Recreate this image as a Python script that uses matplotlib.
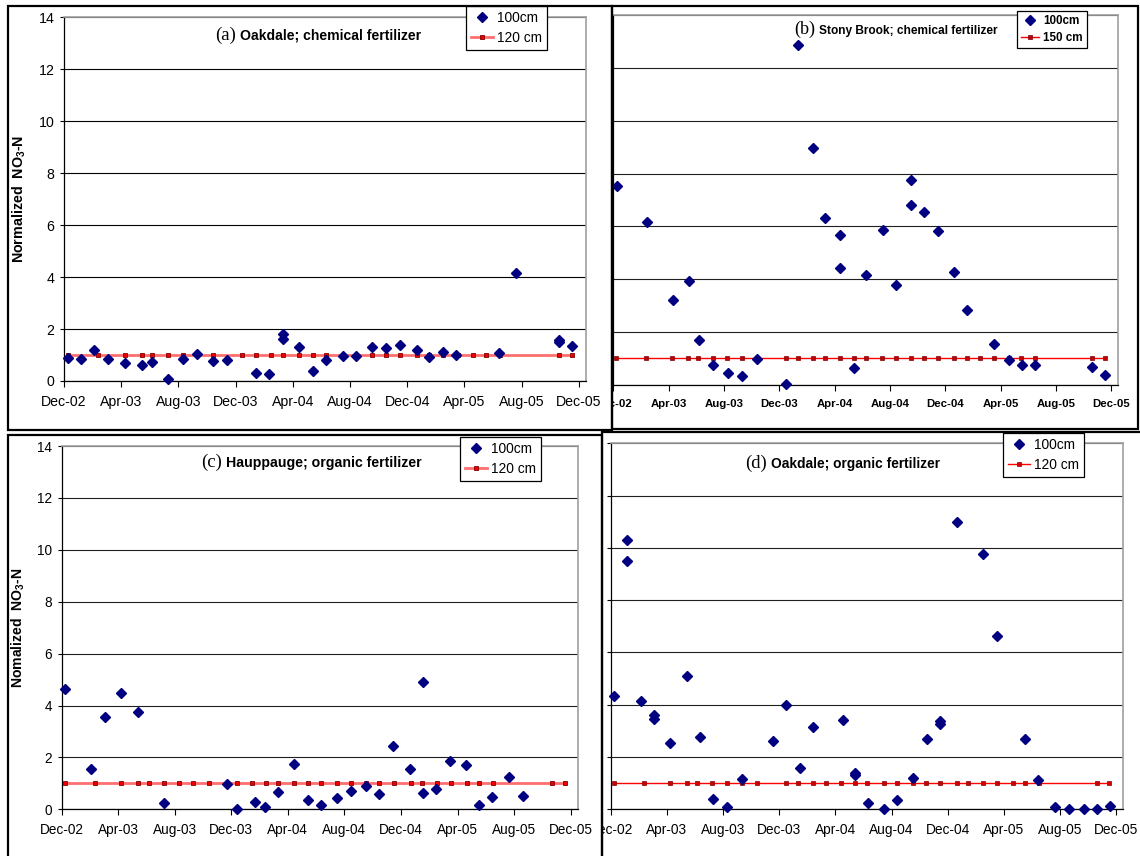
import matplotlib
matplotlib.use("Agg")
import matplotlib.pyplot as plt
from matplotlib.patches import Rectangle
from matplotlib.transforms import Bbox, TransformedBbox

plt.rcParams['font.family'] = ['Liberation Sans', 'DejaVu Sans']
plt.rcParams['mathtext.fontset'] = 'custom'
plt.rcParams['mathtext.rm'] = 'Liberation Sans'
plt.rcParams['mathtext.bf'] = 'Liberation Sans:bold'

# ---------------- data (x = months since Dec-02) ----------------
tick_months = [0, 4, 8, 12, 16, 20, 24, 28, 32, 36]
tick_labels = ['Dec-02', 'Apr-03', 'Aug-03', 'Dec-03', 'Apr-04', 'Aug-04',
               'Dec-04', 'Apr-05', 'Aug-05', 'Dec-05']
y_ticks = [0, 2, 4, 6, 8, 10, 12, 14]

# (a) Oakdale; chemical fertilizer
a_x100 = [0.28, 1.17, 2.12, 3.05, 4.24, 5.48, 6.15, 7.30, 8.34, 9.32, 10.44, 11.42,
          13.43, 14.34, 15.29, 15.29, 16.46, 17.39, 18.32, 19.49, 20.44, 21.54,
          22.49, 23.47, 24.66, 25.52, 26.50, 27.44, 30.42, 31.59, 34.64, 34.64, 35.55]
a_y100 = [0.90, 0.86, 1.21, 0.86, 0.69, 0.63, 0.73, 0.08, 0.83, 1.04, 0.76, 0.80,
          0.31, 0.28, 1.80, 1.60, 1.31, 0.40, 0.80, 0.96, 0.96, 1.31,
          1.28, 1.37, 1.21, 0.94, 1.10, 1.01, 1.08, 4.17, 1.59, 1.49, 1.35]
a_x120 = [0.28, 2.35, 4.24, 5.48, 6.15, 7.30, 8.34, 9.32, 10.44, 12.47, 13.43, 14.48,
          15.29, 16.46, 17.39, 18.32, 19.49, 20.44, 21.54, 22.49, 23.47, 24.66, 25.52,
          26.50, 27.55, 28.62, 29.49, 30.49, 34.64, 35.51]
a_y120 = [1.0] * len(a_x120)

# (b) Stony Brook; chemical fertilizer
b_x100 = [0.27, 2.41, 4.29, 5.45, 6.17, 7.23, 8.27, 9.33, 10.36, 12.48, 13.37, 14.41,
          15.30, 16.41, 16.41, 17.40, 18.29, 19.47, 20.41, 21.52, 21.52, 22.48, 23.45,
          24.60, 25.54, 27.52, 28.60, 29.52, 30.48, 34.60, 35.52]
b_y100 = [7.53, 6.17, 3.20, 3.95, 1.70, 0.76, 0.47, 0.33, 0.98, 0.05, 12.88, 8.98,
          6.32, 5.69, 4.44, 0.63, 4.15, 5.86, 3.77, 7.74, 6.81, 6.56, 5.84,
          4.29, 2.82, 1.54, 0.93, 0.77, 0.77, 0.67, 0.39]
b_x150 = [0.20, 2.37, 4.24, 5.41, 6.13, 7.20, 8.25, 9.28, 10.40, 12.47, 13.37, 14.41,
          15.31, 16.41, 17.38, 18.28, 19.45, 20.40, 21.50, 22.47, 23.44, 24.59, 25.54,
          26.48, 27.53, 28.60, 29.50, 30.50, 34.61, 35.54]
b_y150 = [1.02] * len(b_x150)

# (c) Hauppauge; organic fertilizer
c_x100 = [0.24, 2.08, 3.03, 4.18, 5.41, 7.26, 11.70, 12.43, 13.66, 14.37, 15.32, 16.45,
          17.45, 18.32, 19.50, 20.45, 21.51, 22.46, 23.43, 24.66, 25.56, 25.56, 26.50,
          27.47, 28.63, 29.50, 30.47, 31.63, 32.60]
c_y100 = [4.65, 1.54, 3.54, 4.47, 3.74, 0.24, 0.99, 0.03, 0.28, 0.10, 0.68, 1.73,
          0.36, 0.18, 0.42, 0.72, 0.90, 0.58, 2.44, 1.54, 4.92, 0.63, 0.80,
          1.85, 1.69, 0.17, 0.47, 1.25, 0.51]
c_x120 = [0.24, 2.36, 4.18, 5.41, 6.17, 7.26, 8.30, 9.31, 10.40, 12.43, 13.43, 14.42,
          15.32, 16.41, 17.45, 18.32, 19.50, 20.45, 21.51, 22.46, 23.50, 24.68, 25.48,
          26.52, 27.54, 28.65, 29.50, 30.50, 34.70, 35.60]
c_y120 = [1.0] * len(c_x120)

# (d) Oakdale; organic fertilizer
d_x100 = [0.26, 1.19, 1.19, 2.14, 3.06, 3.06, 4.23, 5.46, 6.34, 7.27, 8.31, 9.36,
          11.59, 12.47, 13.47, 14.39, 16.51, 17.43, 17.43, 18.29, 19.48, 20.40, 21.52,
          22.52, 23.47, 23.47, 24.68, 26.53, 27.48, 29.53, 30.45, 31.61, 32.64, 33.73,
          34.66, 35.58]
d_y100 = [4.35, 10.29, 9.50, 4.15, 3.60, 3.44, 2.55, 5.08, 2.76, 0.40, 0.09, 1.16,
          2.63, 3.98, 1.58, 3.15, 3.41, 1.39, 1.31, 0.26, 0.0, 0.36, 1.20,
          2.68, 3.38, 3.28, 11.0, 9.78, 6.63, 2.68, 1.11, 0.09, 0.03, 0.0,
          0.0, 0.13]
d_x120 = [0.24, 2.35, 4.20, 5.44, 6.18, 7.24, 8.29, 9.36, 10.40, 12.45, 13.37, 14.42,
          15.30, 16.41, 17.41, 18.27, 19.45, 20.38, 21.49, 22.47, 23.47, 24.66, 25.46,
          26.51, 27.51, 28.65, 29.50, 30.50, 34.66, 35.51]
d_y120 = [1.0] * len(d_x120)

# ---------------- layout helpers ----------------
W, H = 1140, 856
fig = plt.figure(figsize=(W / 100, H / 100), dpi=100)
fig.patch.set_facecolor('white')


def fx(px):
    return px / W


def fy(py):
    return 1 - py / H


def add_axes(x0, y0, x1, y1):
    return fig.add_axes([fx(x0), fy(y1), fx(x1) - fx(x0), (y1 - y0) / H])


def frame(x0, y0, x1, y1):
    fig.patches.append(Rectangle((fx(x0), fy(y1)), fx(x1) - fx(x0), (y1 - y0) / H,
                                 transform=fig.transFigure, fill=False,
                                 edgecolor='black', linewidth=1.6, zorder=10))


NAVY = '#000080'
DIAMOND = 4.6


def style_axes(ax, tick_fs, bold_ticks=False, ylabels=True, ytick_len=3,
               grid_color='black'):
    ax.set_xlim(0, 36.5)
    ax.set_ylim(0, 14)
    ax.set_xticks(tick_months)
    ax.set_xticklabels(tick_labels, fontsize=tick_fs,
                       fontweight='bold' if bold_ticks else 'normal')
    ax.set_yticks(y_ticks)
    if ylabels:
        ax.set_yticklabels([str(v) for v in y_ticks], fontsize=tick_fs)
    else:
        ax.set_yticklabels([])
    ax.tick_params(axis='x', direction='out', length=4, width=0.8, pad=6, colors='black')
    ax.tick_params(axis='y', direction='out', length=ytick_len, width=0.8, pad=4)
    ax.grid(axis='y', color=grid_color, linewidth=0.8)
    ax.set_axisbelow(True)
    for s in ['left', 'bottom']:
        ax.spines[s].set_color('black')
        ax.spines[s].set_linewidth(0.9)
    for s in ['top', 'right']:
        ax.spines[s].set_color('#a0a0a0')
        ax.spines[s].set_linewidth(1.2)


def clip_xlabels(ax, x0, y0, x1, y1):
    bb = TransformedBbox(Bbox.from_extents(fx(x0), fy(y1), fx(x1), fy(y0)), fig.transFigure)
    for t in ax.xaxis.get_major_ticks():
        t.label1.set_clip_box(bb)
        t.label1.set_clip_on(True)


def title(xsplit, baseline, tag, text, tag_fs, fs):
    fig.text(fx(xsplit - 4), fy(baseline), tag, family='Liberation Serif',
             fontsize=tag_fs, ha='right', va='baseline')
    fig.text(fx(xsplit), fy(baseline), text, fontsize=fs, fontweight='bold',
             ha='left', va='baseline')


def ylabel(ax, text, x_right, ax_x0, ax_x1, fs):
    ax.set_ylabel(text, fontsize=fs, fontweight='bold')
    ax.yaxis.set_label_coords((x_right - ax_x0) / (ax_x1 - ax_x0), 0.5)


def legend(ax, h1, h2, l2, x0, y0, fs, bold=False):
    leg = ax.legend([h1, h2], ['100cm', l2], loc='upper left',
                    bbox_to_anchor=(fx(x0), fy(y0)), bbox_transform=fig.transFigure,
                    borderaxespad=0, frameon=True, fancybox=False, framealpha=1,
                    edgecolor='black', handlelength=1.6, handletextpad=0.3,
                    borderpad=0.35, labelspacing=0.45,
                    prop={'size': fs, 'weight': 'bold' if bold else 'normal'})
    leg.get_frame().set_linewidth(0.9)
    leg.set_zorder(20)
    return leg


# ---------------- panel frames ----------------
frame(8, 6, 612, 430)
frame(612, 6, 1138, 429)
frame(8, 435, 602, 870)
frame(602, 432, 1150, 870)

# ---------------- (a) ----------------
ax = add_axes(64, 17.3, 586, 381)
style_axes(ax, 10.2)
ha, = ax.plot(a_x100, a_y100, linestyle='none', marker='D', markersize=DIAMOND,
              color=NAVY, zorder=4)
hb, = ax.plot(a_x120, a_y120, color='#ff6f6f', linewidth=2.0, marker='s',
              markersize=3.5, markerfacecolor='#ee0000', markeredgecolor='#800000',
              markeredgewidth=0.6, zorder=3)
for a in (ha, hb):
    a.set_clip_on(False)
ylabel(ax, 'Normalized  NO$_{\\mathbf{3}}$-N', 28.5, 64, 586, 10.3)
legend(ax, ha, hb, '120 cm', 466, 6, 9.9)
title(240, 40, '(a)', 'Oakdale; chemical fertilizer', 13.5, 10.1)

# ---------------- (b) ----------------
ax = add_axes(613.3, 15, 1118.3, 385)
style_axes(ax, 8.2, bold_ticks=True, ylabels=False, ytick_len=0, grid_color='#202020')
ha, = ax.plot(b_x100, b_y100, linestyle='none', marker='D', markersize=DIAMOND,
              color=NAVY, zorder=4)
hb, = ax.plot(b_x150, b_y150, color='#ff0000', linewidth=1.0, marker='s',
              markersize=2.8, markerfacecolor='#c00000', markeredgecolor='#800000',
              markeredgewidth=0.5, zorder=3)
ha.set_clip_on(False)
legend(ax, ha, hb, '150 cm', 1016.7, 10.7, 8.4, bold=True)
title(819, 34, '(b)', 'Stony Brook; chemical fertilizer', 13, 8.6)
clip_xlabels(ax, 613, 0, 1140, 429)

# ---------------- (c) ----------------
ax = add_axes(61.7, 446, 577.7, 809.3)
style_axes(ax, 9.8, grid_color='#202020')
ha, = ax.plot(c_x100, c_y100, linestyle='none', marker='D', markersize=DIAMOND,
              color=NAVY, zorder=4)
hb, = ax.plot(c_x120, c_y120, color='#ff6f6f', linewidth=2.0, marker='s',
              markersize=3.5, markerfacecolor='#ee0000', markeredgecolor='#800000',
              markeredgewidth=0.6, zorder=3)
for a in (ha, hb):
    a.set_clip_on(False)
ylabel(ax, 'Nomalized  NO$_{\\mathbf{3}}$-N', 27.5, 61.7, 577.7, 10.1)
legend(ax, ha, hb, '120 cm', 460.3, 436.7, 9.9)
title(226, 467, '(c)', 'Hauppauge; organic fertilizer', 13.5, 10.2)

# ---------------- (d) ----------------
ax = add_axes(610.7, 443.3, 1123.3, 809.3)
style_axes(ax, 9.9, ylabels=False, grid_color='#202020')
ha, = ax.plot(d_x100, d_y100, linestyle='none', marker='D', markersize=DIAMOND,
              color=NAVY, zorder=4)
hb, = ax.plot(d_x120, d_y120, color='#ff0000', linewidth=1.0, marker='s',
              markersize=3.0, markerfacecolor='#d00000', markeredgecolor='#800000',
              markeredgewidth=0.5, zorder=3)
for a in (ha, hb):
    a.set_clip_on(False)
legend(ax, ha, hb, '120 cm', 1003.3, 432.7, 9.9)
title(771, 468, '(d)', 'Oakdale; organic fertilizer', 13.5, 9.9)
clip_xlabels(ax, 602, 430, 1140, 856)

fig.savefig('out.png', dpi=100, facecolor='white')
